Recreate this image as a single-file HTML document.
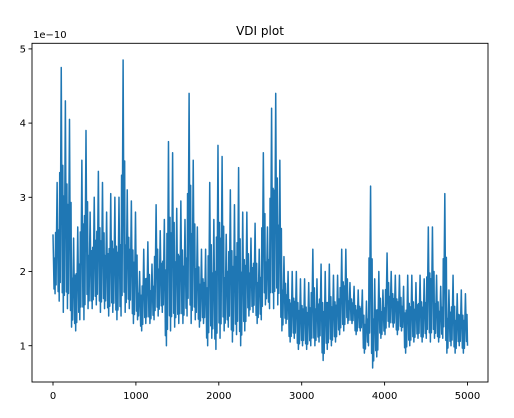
<!DOCTYPE html>
<html><head><meta charset="utf-8"><style>
body{margin:0;background:#fff;}
svg text{font-family:"DejaVu Sans","Liberation Sans",sans-serif;fill:#000;}
</style></head><body>
<svg width="514" height="413" viewBox="0 0 514 413">
<rect x="0" y="0" width="514" height="413" fill="#fff"/>
<text x="260" y="35" font-size="12" text-anchor="middle">VDI plot</text>
<text x="33" y="38" font-size="10">1e−10</text>
<g id="plot"></g>
<g id="axes"></g>
</svg>
<script>
// x tick labels and y tick labels
const xTicks = [0, 1000, 2000, 3000, 4000, 5000];
const yTicks = [1, 2, 3, 4, 5];
// last sample index
const lastIndex = 5000;
// VDI values (x1e-10), alternating peak / trough samples
const vdi = [
 2.5,1.7,
 3.2,1.6,4.75,1.45,  4.3,1.5,4.05,1.25,  2.45,1.2,2.6,1.35,
 3.5,1.35,3.9,1.5, 2.8,1.5,3.0,1.55,  3.35,1.45,3.2,1.5,  2.8,1.4,3.05,1.45,
 3.0,1.35,3.0,1.4, 4.85,1.45,3.1,1.5, 2.95,1.3,2.8,1.35, 2.0,1.2,2.3,1.3,
 2.4,1.3,2.1,1.35, 2.9,1.4,2.55,1.45, 2.7,1.0,3.75,1.2,  3.6,1.25,2.85,1.3,
 2.95,1.3,2.7,1.4, 4.4,1.3,3.5,1.35,  2.6,1.25,2.3,1.3,  2.3,1.0,3.2,1.1,
 2.7,0.95,3.7,1.1, 3.55,1.2,2.5,1.25, 3.1,1.05,2.9,1.15, 3.4,1.0,2.8,1.2,
 2.8,1.4,2.45,1.45, 2.65,1.3,2.3,1.35, 3.6,1.55,2.6,1.5, 4.2,1.5,4.4,1.55,
 3.5,1.2,2.2,1.3,  2.0,1.05,2.0,1.1,  2.0,0.95,1.9,1.0,  1.9,0.95,1.85,1.0,
 2.3,1.0,1.9,1.05, 2.1,0.8,2.0,0.95,  2.1,1.0,1.95,1.05, 1.95,1.15,2.3,1.2,
 2.3,1.3,1.85,1.3, 1.8,1.15,1.75,1.2, 1.75,0.9,1.6,1.0,  3.15,0.7,1.9,0.85,
 2.0,1.1,1.75,1.15, 2.25,1.25,2.0,1.25, 1.95,1.15,1.95,1.2, 1.8,0.9,1.95,1.0,
 1.95,1.05,1.85,1.1, 1.95,1.05,1.9,1.1, 2.6,1.05,2.6,1.1, 1.95,1.05,1.8,1.1,
 3.05,0.9,1.75,1.0, 1.95,0.9,1.7,1.0, 1.75,0.9,1.7,1.0
];
const NS="http://www.w3.org/2000/svg";
const X0=32,X1=488,Y0=43.3,Y1=382;
function xs(i){return 53+i*0.0829;}
function ys(v){return 345.7-(v-1)*74.2;}
const step = lastIndex/(vdi.length-1);
const plot=document.getElementById('plot');
const axes=document.getElementById('axes');
let d="M"+xs(0).toFixed(2)+","+ys(vdi[0]).toFixed(2);
for(let k=0;k<vdi.length-1;k++){
 const a=vdi[k],b=vdi[k+1],hi=Math.max(a,b),lo=Math.min(a,b),r=hi-lo;
 const inner=[[0.25,lo+0.55*r],[0.5,lo+0.08*r],[0.75,lo+0.6*r]];
 inner.forEach(p=>{d+="L"+xs((k+p[0])*step).toFixed(2)+","+ys(p[1]).toFixed(2);});
 d+="L"+xs((k+1)*step).toFixed(2)+","+ys(b).toFixed(2);
}
const line=document.createElementNS(NS,'path');
line.setAttribute('d',d);
line.setAttribute('fill','none');
line.setAttribute('stroke','#1f77b4');
line.setAttribute('stroke-width','1.5');
line.setAttribute('stroke-linejoin','round');


plot.appendChild(line);
const frame=document.createElementNS(NS,'rect');
frame.setAttribute('x',X0);frame.setAttribute('y',Y0);
frame.setAttribute('width',X1-X0);frame.setAttribute('height',Y1-Y0);
frame.setAttribute('fill','none');frame.setAttribute('stroke','#000');frame.setAttribute('stroke-width','0.9');


axes.appendChild(frame);
xTicks.forEach(t=>{
 const x=xs(t);
 const l=document.createElementNS(NS,'line');
 l.setAttribute('x1',x);l.setAttribute('x2',x);l.setAttribute('y1',Y1);l.setAttribute('y2',Y1+3.5);
 l.setAttribute('stroke','#000');l.setAttribute('stroke-width','0.9');
 
 
 axes.appendChild(l);
 const tx=document.createElementNS(NS,'text');
 tx.setAttribute('x',x);tx.setAttribute('y',Y1+17);tx.setAttribute('font-size','10');tx.setAttribute('text-anchor','middle');
 tx.textContent=t;
 
 
 axes.appendChild(tx);
});
yTicks.forEach(t=>{
 const y=ys(t);
 const l=document.createElementNS(NS,'line');
 l.setAttribute('x1',X0-3.5);l.setAttribute('x2',X0);l.setAttribute('y1',y);l.setAttribute('y2',y);
 l.setAttribute('stroke','#000');l.setAttribute('stroke-width','0.9');
 
 
 axes.appendChild(l);
 const tx=document.createElementNS(NS,'text');
 tx.setAttribute('x',X0-6);tx.setAttribute('y',y+3.6);tx.setAttribute('font-size','10');tx.setAttribute('text-anchor','end');
 tx.textContent=t;
 
 
 axes.appendChild(tx);
});
</script>
</body></html>
